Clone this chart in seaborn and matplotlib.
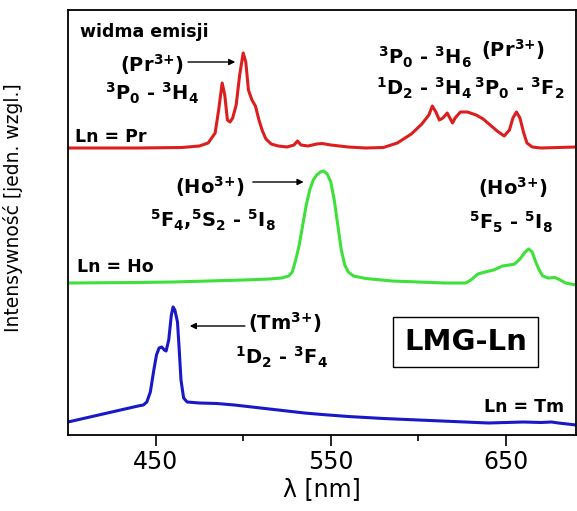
import matplotlib
matplotlib.use("Agg")
import matplotlib.pyplot as plt
import seaborn as sns
import pandas as pd

# ---------------- data ----------------
# Pr spectrum: wavelength [nm] and intensity above its baseline
pr_wl = [400, 440, 465, 475, 480, 484, 486, 488, 489.5, 491, 492.5, 494, 496, 498, 500,
         501.5, 503, 505, 507, 509, 511, 513, 516, 520, 525, 529, 531, 533, 537, 542,
         545, 550, 560, 570, 580, 588, 596, 602, 606, 608, 610, 612, 614, 616.5, 618,
         619.5, 621, 624, 628, 633, 637, 641, 645, 649, 652, 654, 656, 658, 660, 662,
         665, 670, 680, 690]
pr_int = [0, 0, 0.5, 2, 5, 15, 38, 65, 53, 28, 26, 30, 43, 73, 95,
          86, 58, 48, 42, 28, 17, 9, 4, 2, 1, 3, 7, 3, 2, 4,
          4.5, 3, 1, 0, 0.5, 5, 14, 24, 33, 42, 36, 28, 30, 35, 30,
          25, 30, 36, 36, 33, 29, 23, 17, 12, 18, 30, 36, 30, 16, 5,
          1, 0, 0.5, 1]
pr_offset = 287

# Ho spectrum
ho_wl = [400, 440, 460, 480, 500, 515, 522, 526, 528, 530, 532, 534, 536, 538, 540,
         542, 544, 546, 548, 550, 552, 554, 556, 558, 560, 563, 570, 585, 600, 615,
         627, 630, 634, 638, 643, 648, 652, 655, 658, 661, 663, 665, 667, 669, 671,
         674, 678, 681, 684, 690]
ho_int = [0, 0.5, 1, 2, 3, 4, 5, 7, 11, 23, 38, 58, 78, 93, 103,
          108, 111, 112, 109, 101, 83, 58, 33, 18, 11, 7, 4.5, 2, 1, 0,
          0, 3, 9, 11, 13, 17, 18, 19, 24, 31, 34, 31, 21, 13, 7,
          5, 5.5, 3, 0, -2]
ho_offset = 152

# Tm spectrum
tm_wl = [400, 410, 420, 430, 440, 443, 445, 447, 449, 450.5, 452, 453.5, 455, 456, 457.5,
         459, 460, 461, 462.5, 463.5, 464.5, 466, 468, 475, 485, 495, 505, 515, 525, 535,
         545, 560, 580, 600, 620, 640, 650, 660, 670, 676, 680, 690]
tm_int = [13, 17, 21, 25, 29, 30, 33, 43, 65, 80, 87, 88, 85, 84, 95,
          120, 128, 125, 113, 85, 55, 37, 33, 32, 31.5, 30, 28, 26, 24, 22,
          20.5, 18.5, 16.5, 15, 13.5, 12, 12.5, 13, 12.5, 13, 12, 10]
tm_offset = 0

x_ticks = [450, 550, 650]
x_minor = [500, 600]

# ---------------- figure ----------------
sns.set_theme(style="white")
plt.rcParams["font.family"] = ["DejaVu Sans"]
plt.rcParams["mathtext.fontset"] = "dejavusans"
plt.rcParams["mathtext.default"] = "bf"
plt.rcParams["text.color"] = "black"
plt.rcParams["axes.labelcolor"] = "black"
plt.rcParams["xtick.color"] = "black"

fig = plt.figure(figsize=(5.77, 5.11), dpi=100)
ax = fig.add_axes([68 / 577, 76 / 511, 508 / 577, 425 / 511])

df_pr = pd.DataFrame({"wl": pr_wl, "I": [v + pr_offset for v in pr_int]})
df_ho = pd.DataFrame({"wl": ho_wl, "I": [v + ho_offset for v in ho_int]})
df_tm = pd.DataFrame({"wl": tm_wl, "I": [v + tm_offset for v in tm_int]})

sns.lineplot(data=df_pr, x="wl", y="I", ax=ax, color="#dc1e1e", lw=2.2, sort=False,
             solid_joinstyle="round")
sns.lineplot(data=df_ho, x="wl", y="I", ax=ax, color="#3ee03a", lw=2.2, sort=False,
             solid_joinstyle="round")
sns.lineplot(data=df_tm, x="wl", y="I", ax=ax, color="#1818c8", lw=2.2, sort=False,
             solid_joinstyle="round")

ax.set_xlim(400, 690)
ax.set_ylim(0, 425)
ax.set_yticks([])
ax.set_xticks(x_ticks)
ax.set_xticklabels([str(t) for t in x_ticks], fontsize=17, color="black")
ax.set_xticks(x_minor, minor=True)
ax.tick_params(axis="x", which="major", direction="out", length=8, width=1.2,
               color="black", labelcolor="black", pad=3, bottom=True)
ax.tick_params(axis="x", which="minor", direction="out", length=4, width=1.2,
               color="black", bottom=True)
for s in ax.spines.values():
    s.set_color("black")
    s.set_linewidth(1.3)

ax.set_xlabel("λ [nm]", fontsize=17, labelpad=2, color="black")
ax.set_ylabel("Intensywność [jedn. wzgl.]", fontsize=13.5, color="black",
              family=["Liberation Sans Narrow", "DejaVu Sans Condensed", "DejaVu Sans"])
ax.yaxis.set_label_coords(-0.088, 0.535)

kw = dict(fontsize=14, fontweight="bold", color="black", ha="center", va="center")
kln = dict(fontsize=12.5, fontweight="bold", color="black", va="center")

ax.text(407, 403, "widma emisji", fontsize=12.5, fontweight="bold", va="center", ha="left")

# Pr annotations
ax.text(448, 370, "(Pr$^{3{+}}$)", **kw)
ax.text(448, 342, "$^3$P$_0$ - $^3$H$_4$", **kw)
ax.text(404, 298, "Ln = Pr", ha="left", **kln)
ax.text(604, 378, "$^3$P$_0$ - $^3$H$_6$", **kw)
ax.text(654, 385, "(Pr$^{3{+}}$)", **kw)
ax.text(603, 347, "$^1$D$_2$ - $^3$H$_4$", **kw)
ax.text(657.7, 347, "$^3$P$_0$ - $^3$F$_2$", **kw)
ax.annotate("", xy=(495.5, 373), xytext=(468.5, 373),
            arrowprops=dict(arrowstyle="-|>", color="black", lw=1.0,
                            mutation_scale=9, shrinkA=0, shrinkB=0))

# Ho annotations
ax.text(481, 248, "(Ho$^{3{+}}$)", **kw)
ax.text(483, 215, "$^5$F$_4$,$^5$S$_2$ - $^5$I$_8$", **kw)
ax.text(405, 168, "Ln = Ho", ha="left", **kln)
ax.text(654, 247, "(Ho$^{3{+}}$)", **kw)
ax.text(652.6, 213, "$^5$F$_5$ - $^5$I$_8$", **kw)
ax.annotate("", xy=(534.5, 253), xytext=(505.5, 253),
            arrowprops=dict(arrowstyle="-|>", color="black", lw=1.0,
                            mutation_scale=9, shrinkA=0, shrinkB=0))

# Tm annotations
ax.text(524, 112, "(Tm$^{3{+}}$)", **kw)
ax.text(522, 78, "$^1$D$_2$ - $^3$F$_4$", **kw)
ax.text(683.5, 28, "Ln = Tm", ha="right", **kln)
ax.annotate("", xy=(469.5, 109), xytext=(501, 109),
            arrowprops=dict(arrowstyle="-|>", color="black", lw=1.0,
                            mutation_scale=9, shrinkA=0, shrinkB=0))

ax.text(627, 93, "LMG-Ln", fontsize=21, fontweight="bold", ha="center", va="center",
        bbox=dict(boxstyle="square,pad=0.38", fc="white", ec="black", lw=1.0))

fig.savefig("out.png", dpi=100)
